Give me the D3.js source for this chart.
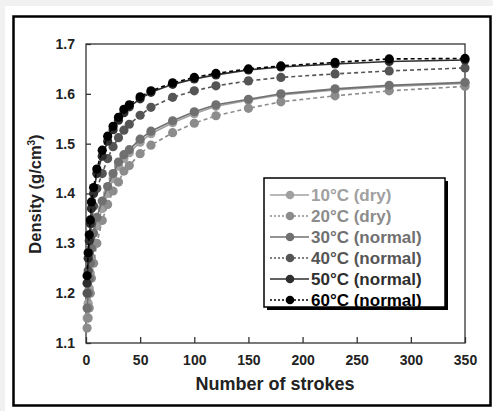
<!DOCTYPE html>
<html>
<head>
<meta charset="utf-8">
<script src="https://cdn.jsdelivr.net/npm/d3@7"></script>
<style>
  body { margin: 0; background: #f1f1f1; }
  svg { display: block; font-family: "Liberation Sans", Arial, sans-serif; }
</style>
</head>
<body>
<svg id="viz"></svg>
<script>
var width = 493;
var height = 411;

// data
var strokes = [1, 2, 3, 4, 5, 7, 10, 15, 20, 25, 30, 35, 40, 50, 60, 80, 100, 120, 150, 180, 230, 280, 350];
var d10 = [1.15, 1.18, 1.21, 1.24, 1.27, 1.30, 1.335, 1.37, 1.40, 1.43, 1.455, 1.470, 1.482, 1.503, 1.520, 1.542, 1.560, 1.575, 1.587, 1.598, 1.608, 1.615, 1.621];
var d20 = [1.13, 1.15, 1.17, 1.20, 1.23, 1.26, 1.30, 1.346, 1.378, 1.405, 1.423, 1.445, 1.456, 1.480, 1.497, 1.522, 1.541, 1.556, 1.571, 1.584, 1.596, 1.606, 1.615];
var d30 = [1.17, 1.20, 1.23, 1.26, 1.29, 1.32, 1.352, 1.385, 1.414, 1.440, 1.463, 1.478, 1.488, 1.509, 1.525, 1.546, 1.564, 1.578, 1.589, 1.600, 1.610, 1.617, 1.623];
var d40 = [1.20, 1.245, 1.28, 1.31, 1.34, 1.375, 1.41, 1.44, 1.47, 1.494, 1.512, 1.527, 1.539, 1.557, 1.573, 1.593, 1.606, 1.616, 1.626, 1.633, 1.640, 1.646, 1.652];
var d50 = [1.22, 1.27, 1.305, 1.34, 1.37, 1.40, 1.44, 1.475, 1.505, 1.528, 1.547, 1.562, 1.574, 1.590, 1.603, 1.619, 1.630, 1.638, 1.648, 1.654, 1.660, 1.665, 1.668];
var d60 = [1.235, 1.281, 1.317, 1.347, 1.383, 1.412, 1.449, 1.487, 1.515, 1.535, 1.553, 1.569, 1.578, 1.594, 1.606, 1.622, 1.633, 1.641, 1.650, 1.656, 1.663, 1.670, 1.671];

var seriesNames = ["10°C (dry)", "20°C (dry)", "30°C (normal)", "40°C (normal)", "50°C (normal)", "60°C (normal)"];
var seriesValues = [d10, d20, d30, d40, d50, d60];
var seriesColors = ["#a0a0a0", "#8c8c8c", "#707070", "#555555", "#2e2e2e", "#000000"];
var seriesDashed = [false, true, false, true, false, true];

var xTicks = [0, 50, 100, 150, 200, 250, 300, 350];
var yTicks = [1.1, 1.2, 1.3, 1.4, 1.5, 1.6, 1.7];

var svg = d3.select("#viz")
  .attr("width", width)
  .attr("height", height);

// page + frame
svg.append("rect")
  .attr("x", 5).attr("y", 6)
  .attr("width", width - 5).attr("height", height - 6)
  .attr("fill", "#fff");
svg.append("rect")
  .attr("x", 13.5).attr("y", 16.5)
  .attr("width", 477).attr("height", 389)
  .attr("fill", "#fff")
  .attr("stroke", "#000")
  .attr("stroke-width", 2.5);

var margin = {left: 86, top: 44, right: 465, bottom: 343};

var x = d3.scaleLinear().domain([0, 350]).range([margin.left, margin.right]);
var y = d3.scaleLinear().domain([1.1, 1.7]).range([margin.bottom, margin.top]);

// plot box
svg.append("rect")
  .attr("x", margin.left).attr("y", margin.top)
  .attr("width", margin.right - margin.left)
  .attr("height", margin.bottom - margin.top)
  .attr("fill", "none")
  .attr("stroke", "#333")
  .attr("stroke-width", 1.3);

var xAxis = d3.axisBottom(x).tickValues(xTicks).tickSize(-6).tickPadding(12)
  .tickFormat(d3.format("d"));
var yAxis = d3.axisLeft(y).tickValues(yTicks).tickSize(-5).tickPadding(11)
  .tickFormat(d3.format(".1f"));

var gx = svg.append("g")
  .attr("transform", "translate(0," + margin.bottom + ")")
  .call(xAxis);
var gy = svg.append("g")
  .attr("transform", "translate(" + margin.left + ",0)")
  .call(yAxis);

[gx, gy].forEach(function(g) {
  g.select(".domain").remove();
  g.selectAll("line").attr("stroke", "#333").attr("stroke-width", 1.3);
  g.selectAll("text")
    .attr("fill", "#222")
    .style("font-size", "14px")
    .style("font-weight", "bold");
});

// axis titles
svg.append("text")
  .attr("x", 275).attr("y", 390)
  .attr("text-anchor", "middle")
  .style("font-size", "18px")
  .style("font-weight", "bold")
  .attr("fill", "#222")
  .text("Number of strokes");

var yt = svg.append("text")
  .attr("transform", "translate(41,194) rotate(-90)")
  .attr("text-anchor", "middle")
  .style("font-size", "16.5px")
  .style("font-weight", "bold")
  .attr("fill", "#222");
yt.append("tspan").text("Density (g/cm");
yt.append("tspan").attr("dy", -6).style("font-size", "10px").text("3");
yt.append("tspan").attr("dy", 6).text(")");

// series
var line = d3.line()
  .x(function(d) { return x(d[0]); })
  .y(function(d) { return y(d[1]); });

var plot = svg.append("g");

seriesValues.forEach(function(vals, i) {
  var pts = strokes.map(function(s, j) { return [s, vals[j]]; });
  plot.append("path")
    .datum(pts)
    .attr("d", line)
    .attr("fill", "none")
    .attr("stroke", seriesColors[i])
    .attr("stroke-width", 1.6)
    .attr("stroke-dasharray", seriesDashed[i] ? "4,3" : null);
  plot.selectAll(".pt" + i)
    .data(pts)
    .enter().append("circle")
    .attr("cx", function(d) { return x(d[0]); })
    .attr("cy", function(d) { return y(d[1]); })
    .attr("r", 4.6)
    .attr("fill", seriesColors[i]);
});

// legend
var lg = svg.append("g").attr("transform", "translate(264,178)");
lg.append("rect")
  .attr("x", 3).attr("y", 3)
  .attr("width", 181).attr("height", 129)
  .attr("fill", "#000");
lg.append("rect")
  .attr("x", 0).attr("y", 0)
  .attr("width", 181).attr("height", 129)
  .attr("fill", "#fff")
  .attr("stroke", "#000")
  .attr("stroke-width", 1.5);

var rows = lg.selectAll(".row")
  .data(seriesNames)
  .enter().append("g")
  .attr("transform", function(d, i) { return "translate(0," + (17 + i * 21) + ")"; });

rows.append("line")
  .attr("x1", 6).attr("x2", 45)
  .attr("stroke", function(d, i) { return seriesColors[i]; })
  .attr("stroke-width", 1.6)
  .attr("stroke-dasharray", function(d, i) { return seriesDashed[i] ? "2,2" : null; });
rows.append("circle")
  .attr("cx", 26).attr("r", 4.3)
  .attr("fill", function(d, i) { return seriesColors[i]; });
rows.append("text")
  .attr("x", 47).attr("y", 6)
  .style("font-size", "17px")
  .style("font-weight", "bold")
  .attr("fill", function(d, i) { return seriesColors[i]; })
  .text(function(d) { return d; });
</script>
</body>
</html>
